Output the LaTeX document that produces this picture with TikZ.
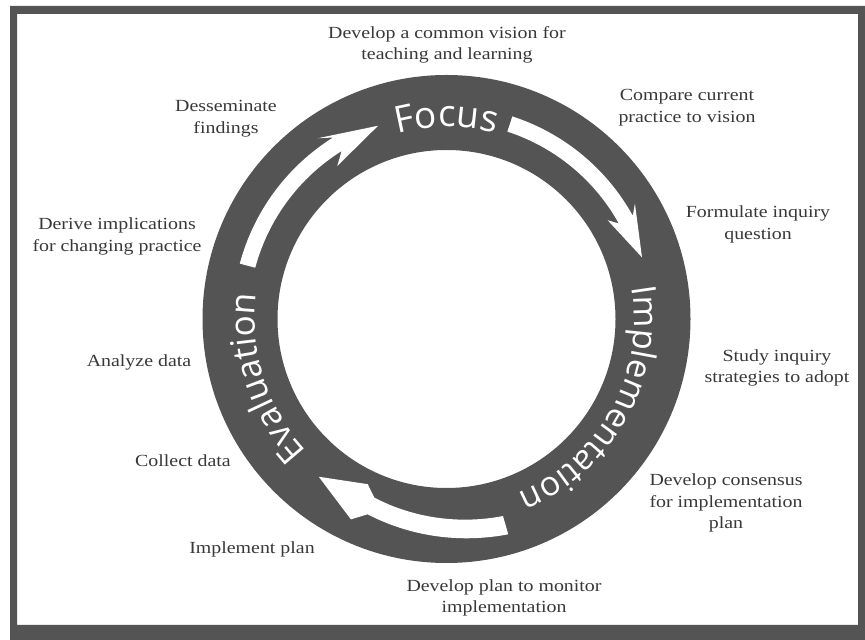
\documentclass[tikz,border=0pt]{standalone}
\usepackage{fontspec}
\setmainfont{Liberation Serif}[FakeStretch=1.17]
\newfontfamily\ringfont{Open Sans}
\usetikzlibrary{decorations.text}
\definecolor{ringgray}{RGB}{84,84,84}
\definecolor{labelgray}{RGB}{56,56,56}
\begin{document}
\begin{tikzpicture}[x=1pt,y=1pt,
  lbl/.style={font=\fontsize{17}{21.5}\selectfont, text=labelgray, align=center, inner sep=0pt},
  ringtext/.style n args={2}{color=white, decorate, decoration={text along path, text align=center,
     text={|\ringfont\fontsize{#2}{#2}\selectfont\color{white}|#1}}}]
\useasboundingbox (0,0) rectangle (865,640);
% frame
\fill[ringgray, even odd rule] (10,0) rectangle (865,634) (17,15) rectangle (858,626);
% ring
\coordinate (C) at (446.5,321);
\fill[ringgray, even odd rule] (C) circle[radius=244] (C) circle[radius=169];
% arrow 1 (Evaluation -> Focus)
\fill[white] ([shift={(C)}]165:214) arc[start angle=165,end angle=122,radius=214]
  -- ([shift={(C)}]125.5:222) -- ([shift={(C)}]109.5:205) -- ([shift={(C)}]125.5:188)
  -- ([shift={(C)}]122:198) arc[start angle=122,end angle=165,radius=198] -- cycle;
% arrow 2 (Focus -> Implementation)
\fill[white] ([shift={(C)}]72:213) arc[start angle=72,end angle=29,radius=213]
  -- ([shift={(C)}]31.5:221) -- ([shift={(C)}]17.5:205) -- ([shift={(C)}]31.5:189)
  -- ([shift={(C)}]29:197) arc[start angle=29,end angle=72,radius=197] -- cycle;
% arrow 3 (Implementation -> Evaluation)
\fill[white] plot[domain=-74:-112, samples=25, variable=\t]
    ({446.5+(224+(\t+74)*0.3514)*cos(\t)}, {321+(224+(\t+74)*0.3514)*sin(\t)})
  -- ([shift={(C)}]-115.5:222) -- ([shift={(C)}]-129:203) -- ([shift={(C)}]-115.5:183)
  -- plot[domain=-112:-74, samples=25, variable=\t]
    ({446.5+(205+(\t+74)*0.3243)*cos(\t)}, {321+(205+(\t+74)*0.3243)*sin(\t)}) -- cycle;
% ring labels
\path[ringtext={Focus}{37}] ([shift={(C)}]125:192) arc[start angle=125,end angle=55,radius=192];
\path[ringtext={Implementation}{34}] ([shift={(C)}]27:188) arc[start angle=27,end angle=-85,radius=188];
\path[ringtext={Evaluation}{35}] ([shift={(C)}]245:192) arc[start angle=245,end angle=151,radius=192];
% outer labels
\node[lbl] (vision) at (447,595) {Develop a common vision for\\teaching and learning};
\node[lbl] (compare) at (687,532.5) {Compare current\\practice to vision};
\node[lbl] (dissem) at (226,521.5) {Desseminate\\findings};
\node[lbl] (formulate) at (758,415.5) {Formulate inquiry\\question};
\node[lbl] (derive) at (117,403.5) {Derive implications\\for changing practice};
\node[lbl] (study) at (777,272) {Study inquiry\\strategies to adopt};
\node[lbl] (analyze) at (139,278) {Analyze data};
\node[lbl] (collect) at (183,179) {Collect data};
\node[lbl] (consensus) at (726,137) {Develop consensus\\for implementation\\plan};
\node[lbl] (implement) at (252,91) {Implement plan};
\node[lbl] (monitor) at (504,42) {Develop plan to monitor\\implementation};
\end{tikzpicture}
\end{document}
